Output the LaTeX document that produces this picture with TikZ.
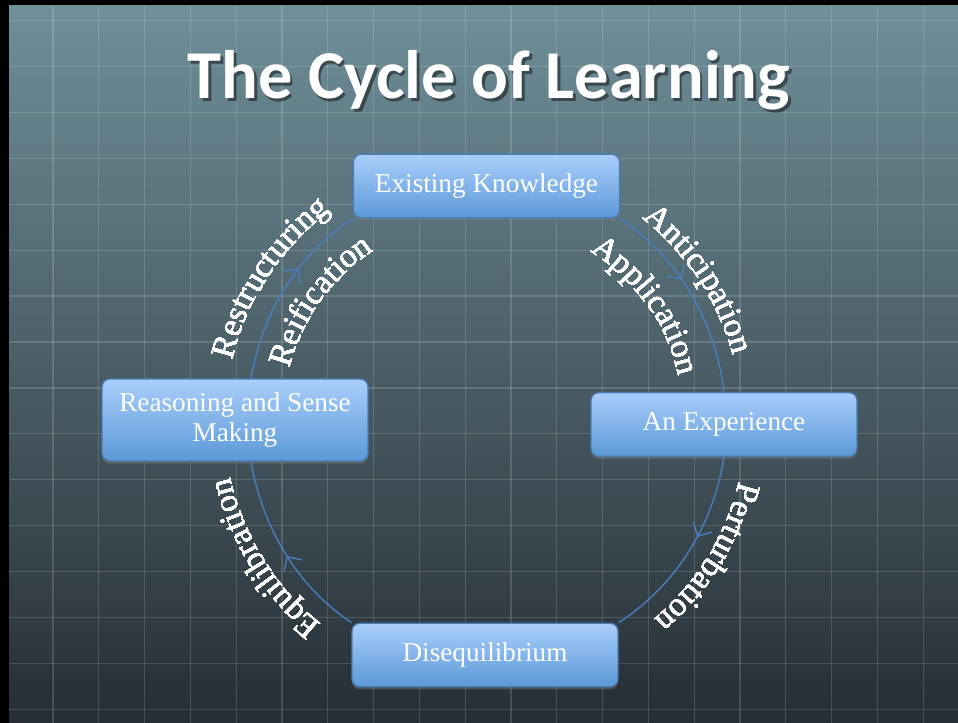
\documentclass[tikz,border=0pt]{standalone}
\usepackage{fontspec}
\setmainfont{Liberation Serif}
\newfontfamily\titlefont{Carlito}
\usetikzlibrary{arrows.meta,decorations.markings,decorations.text,shadows}

\definecolor{slidetop}{HTML}{6F8F99}
\definecolor{slidemid}{HTML}{4A595F}
\definecolor{slidebot}{HTML}{262D34}
\definecolor{stagetop}{HTML}{AACEFB}
\definecolor{stagebot}{HTML}{5B99D8}
\definecolor{stageedge}{HTML}{4A7CB6}
\definecolor{linkblue}{HTML}{4A7EBD}

\pgfdeclarelayer{backdrop}
\pgfdeclarelayer{links}
\pgfsetlayers{backdrop,links,main}

\newcommand{\labelfont}{\fontsize{19}{22}\selectfont}

\tikzset{
  gridline/.style={white, opacity=0.15, line width=0.7pt},
  stage/.style={rectangle, rounded corners=4.5pt, draw=stageedge, line width=0.7pt,
    top color=stagetop, bottom color=stagebot, text=white, align=center,
    minimum width=5.32cm, minimum height=1.27cm, font=\fontsize{15.5}{17.5}\selectfont,
    drop shadow={shadow xshift=0pt, shadow yshift=-1.5pt, opacity=0.4}},
  link/.style={color=linkblue, line width=0.8pt, looseness=0.9,
    decoration={markings, mark=at position #1 with {\arrow{Straight Barb[length=6pt,width=12pt]}}},
    postaction={decorate}},
  arcword/.style={decorate, decoration={text along path, text align=center,
    text color=white, text={|\labelfont|#1}}}
}

% text bent round the cycle: radius, middle angle, word
\newcommand{\arclabel}[3]{%
  % soft glow first
  \foreach \g in {0,45,...,315} \foreach \d in {1.2,2.6}
    \path[arcword={#3}, opacity=0.07, transform canvas={shift={(\g:\d pt)}}]
      ({#2+70}:#1) arc[start angle={#2+70}, end angle={#2-70}, radius=#1];
  \path[arcword={#3}] ({#2+70}:#1) arc[start angle={#2+70}, end angle={#2-70}, radius=#1];
}

\begin{document}
\begin{tikzpicture}[x=0.02cm, y=0.02cm]
  \useasboundingbox (0,0) rectangle (958,-723);
  %% slide
  \begin{pgfonlayer}{backdrop}
    \fill[black] (0,0) rectangle (958,-723);
    \shade[top color=slidetop, middle color=slidemid, bottom color=slidebot] (9,-6) rectangle (958,-723);
    \foreach \k in {1,...,20} \draw[gridline] ({7.2+45.8*\k},-6) -- ({7.2+45.8*\k},-723);
    \foreach \k in {0,...,15} \draw[gridline] (9,{-20.7-45.9*\k}) -- (958,{-20.7-45.9*\k});
  \end{pgfonlayer}

  %% title
  \node[font=\titlefont\bfseries\fontsize{39}{44}\selectfont, text=black, opacity=0.45, anchor=base] at (491.5,-102) {The Cycle of Learning};
  \node[font=\titlefont\bfseries\fontsize{39}{44}\selectfont, text=white, anchor=base] (title) at (489,-99) {The Cycle of Learning};

  %% stages
  \node[stage] (know) at (486.5,-186) {Existing Knowledge};
  \node[stage] (exper) at (724,-424.5) {An Experience};
  \node[stage] (diseq) at (485,-655) {Disequilibrium};
  \node[stage, minimum height=1.64cm] (reason) at (235,-420) {Reasoning and Sense\\Making};

  %% links
  \begin{pgfonlayer}{links}
    \draw[link=0.42] (know.south east) to[out=-34, in=97] (exper.north);
    \draw[link=0.42] (exper.south) to[out=-99, in=33] (diseq.north east);
    \draw[link=0.48] (diseq.north west) to[out=146, in=-80] ([xshift=0.32cm]reason.south);
    \draw[link=0.62] ([xshift=0.32cm]reason.north) to[out=80, in=-147] (know.south west);
  \end{pgfonlayer}

  %% words along the links
  \begin{scope}[shift={(486,-420)}]
    \arclabel{260}{146.7}{Restructuring}
    \arclabel{203}{144.3}{Reification}
    \arclabel{255}{33.4}{Anticipation}
    \arclabel{198}{35.5}{Application}
    \arclabel{261}{-31.8}{Perturbation}
    \arclabel{262}{212}{Equilibration}
  \end{scope}
\end{tikzpicture}
\end{document}
